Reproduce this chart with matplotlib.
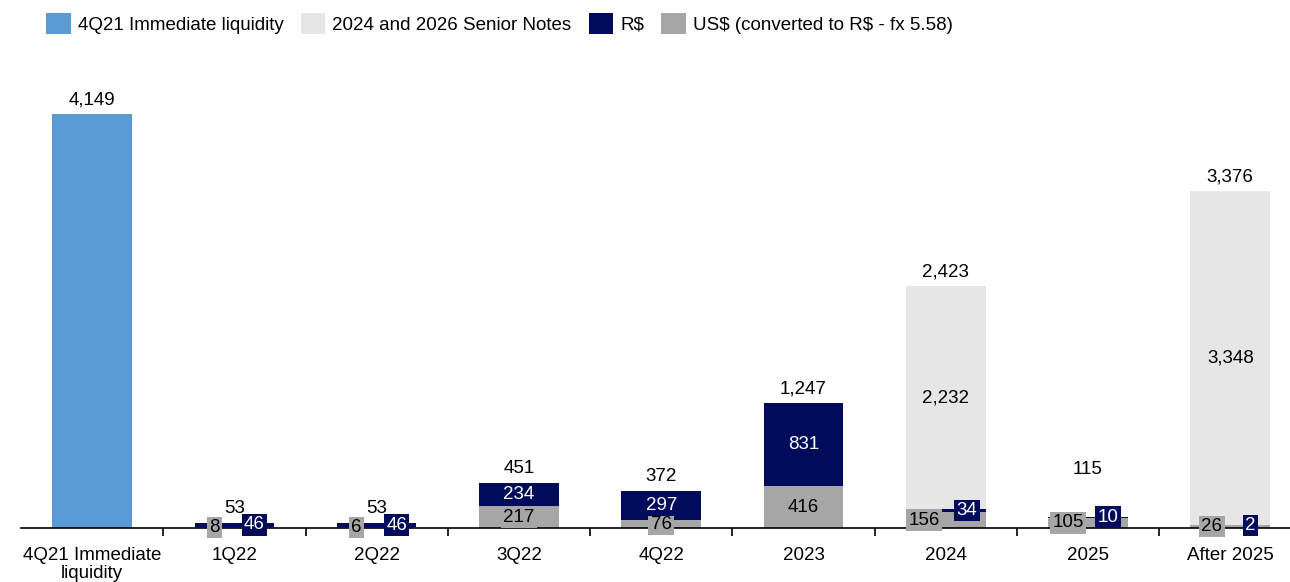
import matplotlib
matplotlib.use("Agg")
import matplotlib.pyplot as plt
import numpy as np

plt.rcParams['font.family'] = ['Liberation Sans', 'DejaVu Sans']

# Data (R$ million)
categories = ["4Q21 Immediate\nliquidity", "1Q22", "2Q22", "3Q22", "4Q22",
              "2023", "2024", "2025", "After 2025"]
liquidity = [4149, 0, 0, 0, 0, 0, 0, 0, 0]
usd = [0, 8, 6, 217, 76, 416, 156, 105, 26]
brl = [0, 46, 46, 234, 297, 831, 34, 10, 2]
notes = [0, 0, 0, 0, 0, 0, 2232, 0, 3348]
totals = [4149, 53, 53, 451, 372, 1247, 2423, 115, 3376]

c_liq = "#5B9BD5"
c_notes = "#E6E6E6"
c_brl = "#000B5C"
c_usd = "#A6A6A6"

# label offsets for small segments
usd_dx = [0, -0.14, -0.14, 0, 0, 0, -0.15, -0.14, -0.13]
brl_dx = [0, 0.14, 0.14, 0, 0, 0, 0.15, 0.14, 0.14]
total_dy = [0, 0, 0, 0, 0, 0, 0, 330, 0]

fig = plt.figure(figsize=(12.9, 5.82), dpi=100)
ax = fig.add_axes([21 / 1290, 54 / 582, 1 - 21 / 1290, 478 / 582])

x = np.arange(len(categories))
w = 0.56
usd_a = np.array(usd)
brl_a = np.array(brl)
notes_a = np.array(notes)

ax.bar(x, liquidity, w, color=c_liq, label="4Q21 Immediate liquidity")
ax.bar(x, usd_a, w, color=c_usd, label="US\\$ (converted to R\\$ - fx 5.58)")
ax.bar(x, brl_a, w, bottom=usd_a, color=c_brl, label="R\\$")
ax.bar(x, notes_a, w, bottom=usd_a + brl_a, color=c_notes,
       label="2024 and 2026 Senior Notes")

fs = 13.5
for i in x:
    ax.text(i, totals[i] + 55 + total_dy[i], f"{totals[i]:,}", ha="center",
            va="bottom", fontsize=fs, color="black")
    if usd[i]:
        ax.text(i + usd_dx[i], usd[i] / 2, f"{usd[i]:,}", ha="center",
                va="center", fontsize=fs, color="black",
                bbox=dict(boxstyle="square,pad=0.12", fc=c_usd, ec="none"))
    if brl[i]:
        ax.text(i + brl_dx[i], usd[i] + brl[i] / 2, f"{brl[i]:,}", ha="center",
                va="center", fontsize=fs, color="white",
                bbox=dict(boxstyle="square,pad=0.12", fc=c_brl, ec="none"))
    if notes[i]:
        ax.text(i, usd[i] + brl[i] + notes[i] / 2, f"{notes[i]:,}",
                ha="center", va="center", fontsize=fs, color="black")

ax.set_xlim(-0.5, 8.42)
ax.set_ylim(0, 4787)
ax.set_yticks([])
for s in ["top", "right", "left"]:
    ax.spines[s].set_visible(False)
ax.spines["bottom"].set_linewidth(1.2)

ax.set_xticks(x)
ax.set_xticklabels(categories, fontsize=fs, va="top", linespacing=1.05)
ax.tick_params(axis="x", which="major", length=0, pad=14)
ax.set_xticks(x[:-1] + 0.5, minor=True)
ax.tick_params(axis="x", which="minor", length=6, width=1.2, direction="out")

handles, labels = ax.get_legend_handles_labels()
order = [0, 3, 2, 1]
fig.legend([handles[k] for k in order], [labels[k] for k in order],
           loc="upper left", bbox_to_anchor=(33 / 1290, 1.0), ncol=4,
           frameon=False, fontsize=fs, handlelength=1.3, handleheight=1.3,
           handletextpad=0.4, columnspacing=0.9, borderaxespad=0.3)

fig.savefig("out.png", dpi=100)
